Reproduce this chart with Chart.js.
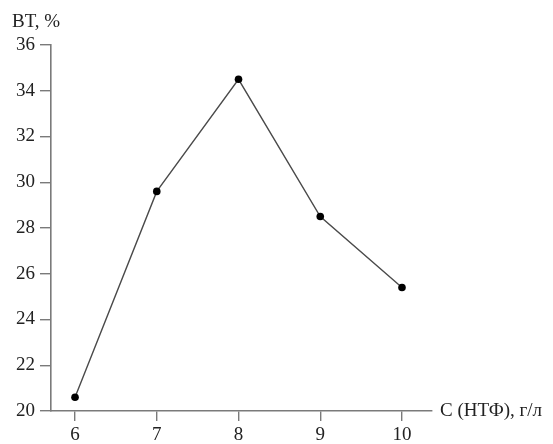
<!DOCTYPE html>
<html>
<head>
<meta charset="utf-8">
<script src="https://cdn.jsdelivr.net/npm/chart.js@4/dist/chart.umd.min.js"></script>
<style>
  html, body { margin: 0; padding: 0; background: #fff; }
  canvas { display: block; }
</style>
</head>
<body>
<canvas id="c" width="553" height="444"></canvas>
<script>
// Concentration of НТФ, g/l
const concentrations = [6, 7, 8, 9, 10];
// BT, %
const btValues = [20.6, 29.6, 34.5, 28.5, 25.4];
const yTickValues = [20, 22, 24, 26, 28, 30, 32, 34, 36];
const yAxisLabel = 'BT, %';
const xAxisLabel = 'С (НТФ), г/л';

const FONT = '"Liberation Serif", "Times New Roman", serif';
const AXIS_GRAY = '#7a7a7a';

// Draws the axis captions: one above the Y axis, one at the end of the X axis
const axisCaptions = {
  id: 'axisCaptions',
  afterDraw(chart) {
    const { ctx, chartArea, scales } = chart;
    ctx.save();
    ctx.fillStyle = '#222';
    ctx.font = '19px ' + FONT;
    ctx.textBaseline = 'middle';
    ctx.textAlign = 'left';
    ctx.fillText(yAxisLabel, 12, 22);
    ctx.fillText(xAxisLabel, chartArea.right + 8, scales.y.getPixelForValue(20));
    ctx.restore();
  }
};

new Chart(document.getElementById('c'), {
  type: 'line',
  data: {
    datasets: [{
      data: concentrations.map((c, i) => ({ x: c, y: btValues[i] })),
      borderColor: '#4a4a4a',
      borderWidth: 1.4,
      pointBackgroundColor: '#000',
      pointBorderColor: '#000',
      pointRadius: 3.8,
      pointBorderWidth: 0,
      tension: 0,
      fill: false
    }]
  },
  options: {
    responsive: false,
    animation: false,
    devicePixelRatio: 1,
    layout: { padding: { top: 45, right: 121, left: 0, bottom: 0 } },
    plugins: {
      legend: { display: false },
      tooltip: { enabled: false }
    },
    scales: {
      x: {
        type: 'linear',
        min: 5.706,
        max: 10.367,
        afterFit(scale) { scale.height = 33; },
        afterBuildTicks(scale) {
          scale.ticks = concentrations.map(v => ({ value: v }));
        },
        ticks: {
          color: '#222',
          font: { family: FONT, size: 19 },
          padding: 3,
          maxRotation: 0
        },
        grid: {
          drawOnChartArea: false,
          drawTicks: true,
          tickLength: 10,
          color: AXIS_GRAY,
          lineWidth: 1.4
        },
        border: { display: true, color: AXIS_GRAY, width: 1.6 }
      },
      y: {
        type: 'linear',
        min: 20,
        max: 36,
        afterFit(scale) { scale.width = 51; },
        afterBuildTicks(scale) {
          scale.ticks = yTickValues.map(v => ({ value: v }));
        },
        ticks: {
          color: '#222',
          font: { family: FONT, size: 19 },
          padding: 5
        },
        grid: {
          drawOnChartArea: false,
          drawTicks: true,
          tickLength: 11,
          color: AXIS_GRAY,
          lineWidth: 1.4
        },
        border: { display: true, color: AXIS_GRAY, width: 1.6 }
      }
    }
  },
  plugins: [axisCaptions]
});
</script>
</body>
</html>
